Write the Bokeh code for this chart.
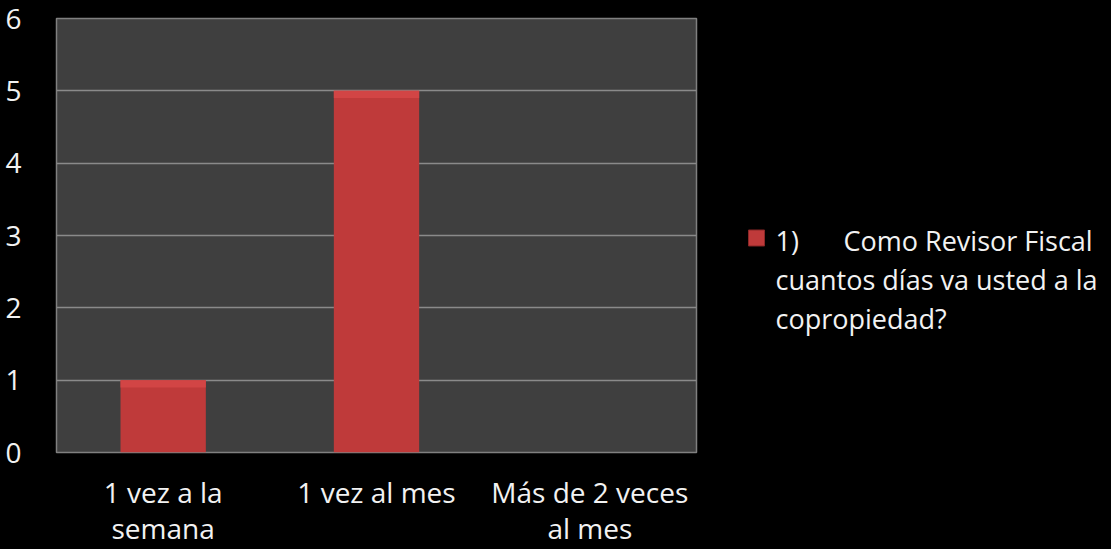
from bokeh.plotting import figure
from bokeh.layouts import row
from bokeh.models import FixedTicker, Range1d, ColumnDataSource
from bokeh.core.properties import value
from bokeh.embed import file_html
from bokeh.resources import INLINE

categories = ["1 vez a la semana", "1 vez al mes", "Más de 2 veces al mes"]
tick_labels = ["1 vez a la\nsemana", "1 vez al mes", "Más de 2 veces\nal mes"]
values = [1, 5, 0]
y_ticks = [0, 1, 2, 3, 4, 5, 6]
legend_num = "1)"
legend_lines = ["Como Revisor Fiscal", "cuantos días va usted a la", "copropiedad?"]

FONT = "Open Sans"
TXT = "#f2f2f2"
RED = "#bf3a3a"
RED_HI = "#d24545"

xpos = list(range(len(categories)))

p = figure(x_range=Range1d(-0.5, len(categories) - 0.5), y_range=Range1d(0, 6),
           width=700, height=549, output_backend="svg", toolbar_location=None,
           min_border_left=56, min_border_right=4, min_border_top=18, min_border_bottom=96)
p.background_fill_color = "#3f3f3f"
p.border_fill_color = "#000000"
p.outline_line_color = "#808080"
p.outline_line_width = 1.5

src = ColumnDataSource(dict(x=xpos, top=values, hi=[v - 0.1 for v in values]))
p.vbar(x="x", top="top", width=0.4, source=src, fill_color=RED, line_color=None)
p.vbar(x="x", top="top", bottom="hi", width=0.4, source=src, fill_color=RED_HI,
       line_color=None)

p.xgrid.grid_line_color = None
p.ygrid.grid_line_color = "#8a8a8a"
p.ygrid.grid_line_width = 1.5
p.yaxis.ticker = FixedTicker(ticks=y_ticks)
p.xaxis.ticker = FixedTicker(ticks=xpos)

for ax in (p.xaxis[0], p.yaxis[0]):
    ax.axis_line_color = None
    ax.major_tick_line_color = None
    ax.minor_tick_line_color = None
    ax.major_label_text_color = TXT
    ax.major_label_text_font = FONT
    ax.major_label_text_font_size = "28px"

p.yaxis.major_label_standoff = 29
p.xaxis[0].major_label_standoff = 14
p.xaxis[0].major_label_overrides = {i: t for i, t in zip(xpos, tick_labels)}
p.xaxis[0].major_label_text_line_height = 0.95

# legend panel (frame aligned with the chart frame by the row layout)
lg = figure(x_range=Range1d(700, 1111), y_range=Range1d(453, 18), width=411, height=549,
            output_backend="svg", toolbar_location=None,
            min_border_left=0, min_border_right=0, min_border_top=18, min_border_bottom=96)
lg.axis.visible = False
lg.grid.visible = False
lg.background_fill_color = "#000000"
lg.border_fill_color = "#000000"
lg.outline_line_color = None
lg.rect(x=[756], y=[238], width=16, height=16, fill_color=RED, line_color="#8a2727")
lg.text(x=[775, 843, 775, 775], y=[241, 241, 280, 319],
        text=[legend_num] + legend_lines, text_color=TXT, text_font=value(FONT),
        text_font_size="27px", text_baseline="middle")

layout = row(p, lg, spacing=0)
layout.styles = {"background-color": "#000000"}
open("out.html", "w").write(file_html(layout, INLINE))
